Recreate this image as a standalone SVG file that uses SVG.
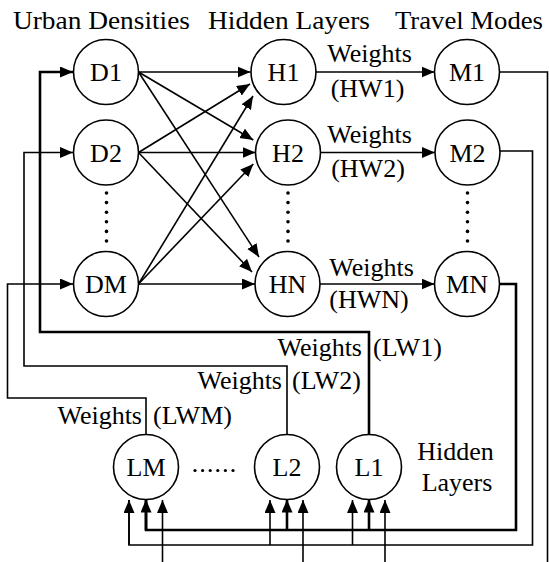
<svg xmlns="http://www.w3.org/2000/svg" width="549" height="562" viewBox="0 0 549 562" font-family="'Liberation Serif', 'Times New Roman', serif">
<style>
text{font-family:'Liberation Serif','Times New Roman',serif;font-size:26px;fill:#000}
.c{text-anchor:middle}
.e{text-anchor:end}
.n circle{fill:#fff;stroke:#000;stroke-width:1.6}
.l{fill:none;stroke:#000;stroke-width:1.6}
.t{fill:none;stroke:#000;stroke-width:2.6}
.a{marker-end:url(#ah)}
.dot{fill:#000}
</style>
<defs>
<marker id="ah" markerUnits="userSpaceOnUse" markerWidth="14" markerHeight="12" refX="13" refY="5.5" orient="auto">
<path d="M0,0 L13,5.5 L0,11 z" fill="#000"/>
</marker>
</defs>

<g id="headers">
<text class="c" x="101.5" y="29" textLength="177" lengthAdjust="spacingAndGlyphs">Urban Densities</text>
<text class="c" x="289" y="29" textLength="162" lengthAdjust="spacingAndGlyphs">Hidden Layers</text>
<text class="c" x="469" y="29" textLength="148" lengthAdjust="spacingAndGlyphs">Travel Modes</text>
</g>

<g id="connectors">
<line class="l a" x1="138.5" y1="72" x2="250.5" y2="72"/>
<line class="l a" x1="138.5" y1="72" x2="253.3" y2="140"/>
<line class="l a" x1="138.5" y1="72" x2="259" y2="257"/>
<line class="l a" x1="138.5" y1="152.5" x2="250" y2="84"/>
<line class="l a" x1="138.5" y1="152.5" x2="255.5" y2="152.5"/>
<line class="l a" x1="138.5" y1="152.5" x2="252" y2="272"/>
<line class="l a" x1="138.5" y1="284" x2="253" y2="96"/>
<line class="l a" x1="138.5" y1="284" x2="253.3" y2="164"/>
<line class="l a" x1="138.5" y1="284" x2="255" y2="284"/>
<line class="l a" x1="316" y1="72" x2="434.5" y2="72"/>
<line class="l a" x1="320.5" y1="152.5" x2="435" y2="152.5"/>
<line class="l a" x1="320" y1="284" x2="434.5" y2="284"/>
<path class="l" d="M499.5,72 H547.5 V562"/>
<path class="l" d="M500,151 H532.5 V545 H129 V500"/>
<path class="l a" d="M129,545 V500"/>
<path class="l a" d="M270,545 V500"/>
<path class="l a" d="M352.5,545 V500"/>
<path class="t" d="M499.5,284 H516 V530 H146 V500"/>
<path class="t a" d="M146,530 V499.5"/>
<path class="t a" d="M287,530 V499.5"/>
<path class="t a" d="M369,530 V499.5"/>
<path class="l a" d="M162.5,562 V500"/>
<path class="l a" d="M303,562 V500"/>
<path class="l a" d="M385,562 V500"/>
<path class="t a" d="M369,434.5 V332 H40 V72 H73"/>
<path class="l a" d="M287,434.5 V366 H24 V152.5 H73"/>
<path class="l a" d="M146,434.5 V398 H7.5 V284 H73"/>
</g>

<g id="edge-labels">
<text class="c" x="369.5" y="62">Weights</text>
<text class="c" x="367.5" y="97">(HW1)</text>
<text class="c" x="369.5" y="143">Weights</text>
<text class="c" x="368" y="177">(HW2)</text>
<text class="c" x="371.5" y="276">Weights</text>
<text class="c" x="369" y="308">(HWN)</text>
<text class="e" x="362" y="356">Weights</text>
<text x="373" y="356">(LW1)</text>
<text class="e" x="282" y="389">Weights</text>
<text x="292" y="389">(LW2)</text>
<text class="e" x="142" y="424">Weights</text>
<text x="153" y="424">(LWM)</text>
<text class="c" x="455.5" y="460">Hidden</text>
<text class="c" x="457" y="491">Layers</text>
</g>

<g id="dots">
<circle class="dot" cx="106.5" cy="193" r="1.8"/><circle class="dot" cx="106.5" cy="202.6" r="1.8"/><circle class="dot" cx="106.5" cy="212.2" r="1.8"/><circle class="dot" cx="106.5" cy="221.8" r="1.8"/><circle class="dot" cx="106.5" cy="231.4" r="1.8"/><circle class="dot" cx="106.5" cy="241" r="1.8"/>
<circle class="dot" cx="288" cy="193" r="1.8"/><circle class="dot" cx="288" cy="202.6" r="1.8"/><circle class="dot" cx="288" cy="212.2" r="1.8"/><circle class="dot" cx="288" cy="221.8" r="1.8"/><circle class="dot" cx="288" cy="231.4" r="1.8"/><circle class="dot" cx="288" cy="241" r="1.8"/>
<circle class="dot" cx="467.5" cy="193" r="1.8"/><circle class="dot" cx="467.5" cy="202.6" r="1.8"/><circle class="dot" cx="467.5" cy="212.2" r="1.8"/><circle class="dot" cx="467.5" cy="221.8" r="1.8"/><circle class="dot" cx="467.5" cy="231.4" r="1.8"/><circle class="dot" cx="467.5" cy="241" r="1.8"/>
<circle class="dot" cx="195" cy="470.5" r="1.6"/><circle class="dot" cx="202.6" cy="470.5" r="1.6"/><circle class="dot" cx="210.2" cy="470.5" r="1.6"/><circle class="dot" cx="217.8" cy="470.5" r="1.6"/><circle class="dot" cx="225.4" cy="470.5" r="1.6"/><circle class="dot" cx="233" cy="470.5" r="1.6"/>
</g>

<g id="D1" class="n"><circle cx="106" cy="72" r="32.5"/><text class="c" x="106" y="81">D1</text></g>
<g id="D2" class="n"><circle cx="106" cy="152.5" r="32.5"/><text class="c" x="106" y="161.5">D2</text></g>
<g id="DM" class="n"><circle cx="106" cy="284" r="32.5"/><text class="c" x="106" y="293">DM</text></g>
<g id="H1" class="n"><circle cx="283.5" cy="72" r="32.5"/><text class="c" x="283.5" y="81">H1</text></g>
<g id="H2" class="n"><circle cx="288" cy="152.5" r="32.5"/><text class="c" x="288" y="161.5">H2</text></g>
<g id="HN" class="n"><circle cx="287.5" cy="284" r="32.5"/><text class="c" x="287.5" y="293">HN</text></g>
<g id="M1" class="n"><circle cx="467" cy="72" r="32.5"/><text class="c" x="467" y="81">M1</text></g>
<g id="M2" class="n"><circle cx="467.5" cy="152.5" r="32.5"/><text class="c" x="467.5" y="161.5">M2</text></g>
<g id="MN" class="n"><circle cx="467" cy="284" r="32.5"/><text class="c" x="467" y="293">MN</text></g>
<g id="LM" class="n"><circle cx="146" cy="467" r="32.5"/><text class="c" x="146" y="476">LM</text></g>
<g id="L2" class="n"><circle cx="287" cy="467" r="32.5"/><text class="c" x="287" y="476">L2</text></g>
<g id="L1" class="n"><circle cx="369" cy="467" r="32.5"/><text class="c" x="369" y="476">L1</text></g>
</svg>
